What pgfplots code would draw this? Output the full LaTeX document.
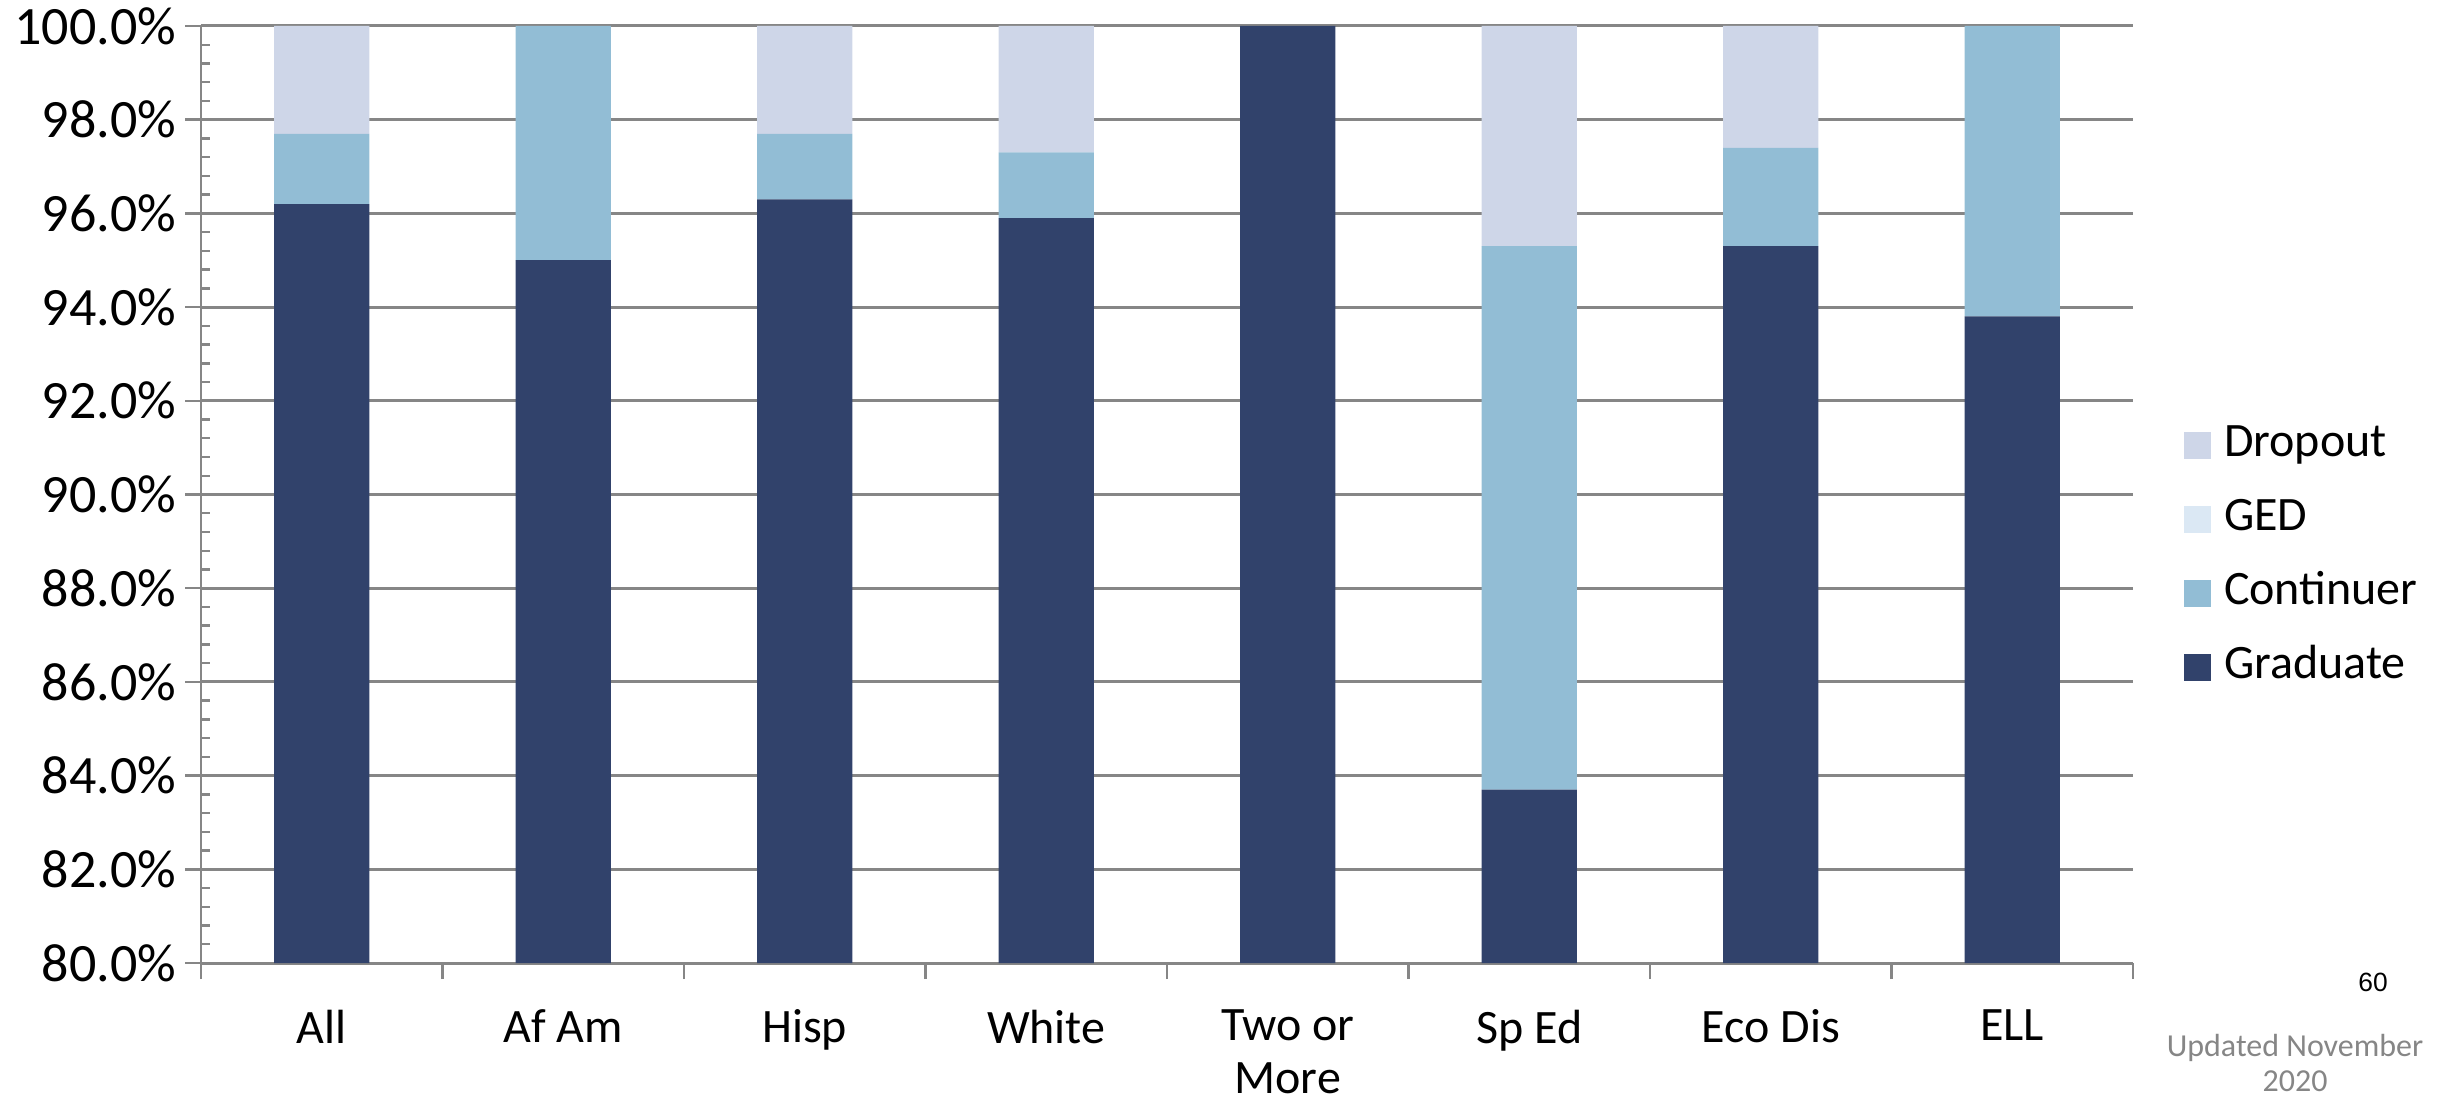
\documentclass[border=0pt]{standalone}
\usepackage{pgfplots}
\pgfplotsset{compat=1.18}
\usepackage{fontspec}
\setmainfont{Carlito}
\newfontfamily\arialfont{Liberation Sans}
\definecolor{grad}{RGB}{49,66,107}
\definecolor{cont}{RGB}{146,189,213}
\definecolor{ged}{RGB}{219,232,244}
\definecolor{drop}{RGB}{206,214,232}
\definecolor{gridgray}{RGB}{134,134,134}
\begin{document}
\begin{tikzpicture}
\useasboundingbox (-50.25pt,-35.25pt) rectangle (561.75pt,240.75pt);
\begin{axis}[
  scale only axis, width=483pt, height=234.25pt,
  ybar stacked, bar width=23.8pt,
  xmin=-0.5, xmax=7.5, ymin=80, ymax=100,
  axis x line*=bottom, axis y line*=left,
  axis line style={gridgray, line width=0.6pt},
  xtick={0,...,7},
  xticklabels={All, Af Am, Hisp, White, {Two or\\More}, Sp Ed, Eco Dis, ELL},
  xticklabel style={align=center, font=\fontsize{12}{13.3}\selectfont, yshift=-4.3pt},
  xtick style={draw=none},
  extra x ticks={-0.5,0.5,...,7.5}, extra x tick labels={},
  extra x tick style={grid=none, major tick length=4pt, tick align=outside, xtick style={draw=gridgray, line width=0.6pt}},
  ytick={80,82,...,100},
  ytick style={draw=gridgray, line width=0.6pt},
  tick align=outside, major tick length=3.9pt,
  ymajorgrids, grid style={gridgray, line width=0.75pt},
  extra y ticks={80.4,80.8,...,99.7}, extra y tick labels={},
  extra y tick style={grid=none, tick align=inside, major tick length=2.3pt},
  yticklabel={\pgfmathprintnumber[fixed,fixed zerofill,precision=1]{\tick}\%},
  yticklabel style={font=\fontsize{13.5}{15}\selectfont, xshift=1.2pt},
  /pgf/number format/assume math mode=true,
  reverse legend,
  legend style={at={(1.026,0.434)}, anchor=west, draw=none, fill=none, inner sep=0pt,
    row sep=7pt, column sep=3.25pt, font=\fontsize{12}{14}\selectfont,
    nodes={inner sep=0pt, text height=8.5pt, text depth=3pt}},
  legend cell align=left,
  legend image code/.code={\fill[#1] (0pt,-3.4pt) rectangle (6.75pt,3.4pt);},
]
\addplot[fill=grad, draw=none] coordinates {(0,96.2) (1,95.0) (2,96.3) (3,95.9) (4,100) (5,83.7) (6,95.3) (7,93.8)};
\addlegendentry{Graduate}
\addplot[fill=cont, draw=none] coordinates {(0,1.5) (1,5.0) (2,1.4) (3,1.4) (4,0) (5,11.6) (6,2.1) (7,6.2)};
\addlegendentry{Continuer}
\addplot[fill=ged, draw=none] coordinates {(0,0) (1,0) (2,0) (3,0) (4,0) (5,0) (6,0) (7,0)};
\addlegendentry{GED}
\addplot[fill=drop, draw=none] coordinates {(0,2.3) (1,0) (2,2.3) (3,2.7) (4,0) (5,4.7) (6,2.6) (7,0)};
\addlegendentry{Dropout}
\end{axis}
\node[font=\arialfont\fontsize{6.6}{7}\selectfont] at (543pt,-4.75pt) {60};
\node[align=center, text=gridgray, font=\fontsize{8}{8.7}\selectfont] at (523.5pt,-25pt) {Updated November\\2020};
\end{tikzpicture}
\end{document}
